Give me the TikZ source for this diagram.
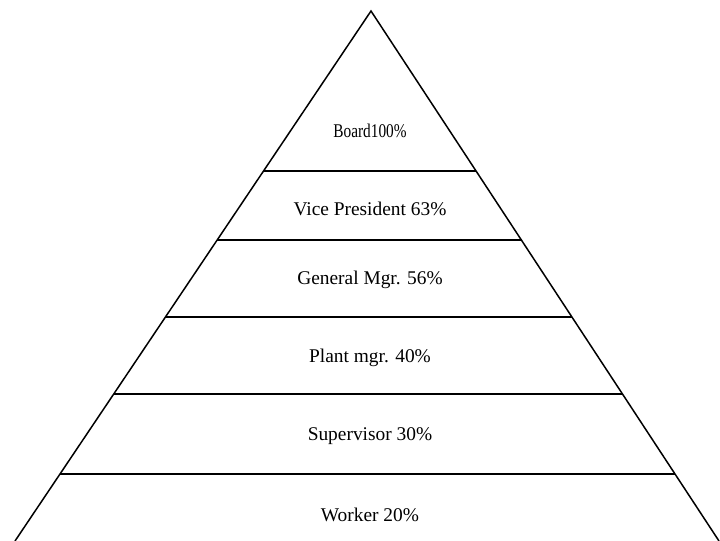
\documentclass[tikz,border=0pt]{standalone}
\usepackage{fontspec}
\setmainfont{Liberation Serif}
\usetikzlibrary{calc}
\begin{document}
\begin{tikzpicture}[x=0.5pt,y=-0.5pt,
  side/.style={line width=0.75pt,line join=miter},
  tier/.style={line width=0.9pt},
  lbl/.style={font=\fontsize{9.7}{11.6}\selectfont,inner sep=0pt}]
\useasboundingbox (0,0) rectangle (720,541);
% outline of the pyramid
\coordinate (apex) at (371,11);
\coordinate (bl) at (15,541);
\coordinate (br) at (719,541);
\draw[side] (bl) -- (apex) -- (br);
% tier boundaries, placed along the two sides
\foreach \i/\t in {1/0.3019,2/0.4321,3/0.5774,4/0.7226,5/0.8736}{
  \coordinate (l\i) at ($(apex)!\t!(bl)$);
  \coordinate (r\i) at ($(apex)!\t!(br)$);
  \draw[tier] (l\i) -- (r\i);
}
% tier labels
\node[lbl] (board) at (370,131) {\scalebox{0.79}[1]{Board100\%}};
\node[lbl] (vp) at (370,209) {Vice President 63\%};
\node[lbl] (gm) at (370,280) {General Mgr. 56\%};
\node[lbl] (pm) at (370,358) {Plant mgr. 40\%};
\node[lbl] (sup) at (370,436) {Supervisor 30\%};
\node[lbl] (wk) at (370,515) {Worker 20\%};
\end{tikzpicture}
\end{document}
